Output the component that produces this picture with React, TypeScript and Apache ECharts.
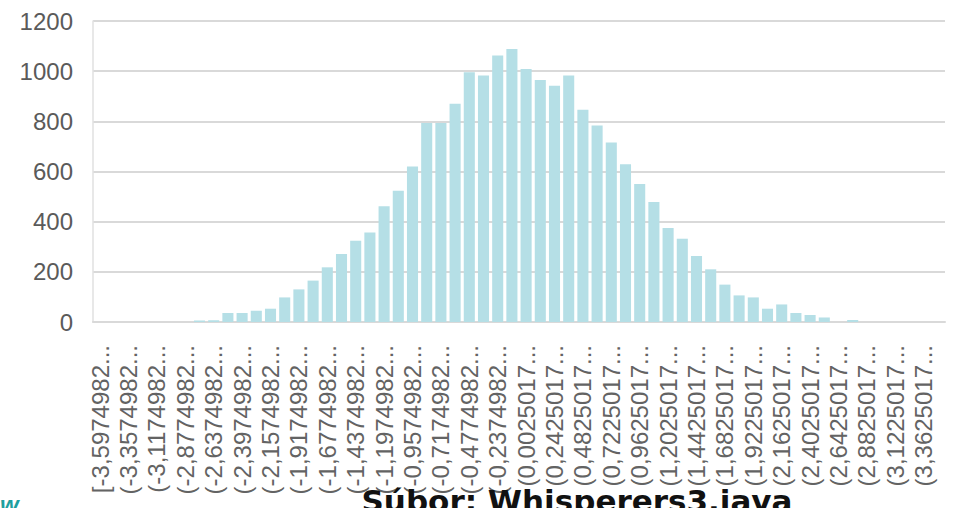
import React, { useEffect, useRef } from "react";
import * as echarts from "echarts";

const binStarts: string[] = [
  "[-3,5974982", "(-3,4774982", "(-3,3574982", "(-3,2374982", "(-3,1174982",
  "(-2,9974982", "(-2,8774982", "(-2,7574982", "(-2,6374982", "(-2,5174982",
  "(-2,3974982", "(-2,2774982", "(-2,1574982", "(-2,0374982", "(-1,9174982",
  "(-1,7974982", "(-1,6774982", "(-1,5574982", "(-1,4374982", "(-1,3174982",
  "(-1,1974982", "(-1,0774982", "(-0,9574982", "(-0,8374982", "(-0,7174982",
  "(-0,5974982", "(-0,4774982", "(-0,3574982", "(-0,2374982", "(-0,1174982",
  "(0,0025017", "(0,1225017", "(0,2425017", "(0,3625017", "(0,4825017",
  "(0,6025017", "(0,7225017", "(0,8425017", "(0,9625017", "(1,0825017",
  "(1,2025017", "(1,3225017", "(1,4425017", "(1,5625017", "(1,6825017",
  "(1,8025017", "(1,9225017", "(2,0425017", "(2,1625017", "(2,2825017",
  "(2,4025017", "(2,5225017", "(2,6425017", "(2,7625017", "(2,8825017",
  "(3,0025017", "(3,1225017", "(3,2425017", "(3,3625017", "(3,4825017",
];

const counts: number[] = [
  0, 0, 0, 0, 0, 0, 0, 6, 7, 36,
  36, 45, 53, 98, 130, 165, 218, 271, 324, 357,
  461, 523, 620, 793, 793, 870, 996, 983, 1062, 1088,
  1009, 965, 942, 983, 846, 783, 716, 629, 550, 478,
  375, 332, 263, 210, 149, 106, 98, 53, 70, 36,
  28, 18, 0, 8, 0, 0, 0, 0, 0, 0,
];

const yTicks = { min: 0, max: 1200, interval: 200 };
const titleText = "Súbor: Whisperers3.java";
const cornerText = "w";

export default function App() {
  const ref = useRef<HTMLDivElement>(null);
  useEffect(() => {
    if (!ref.current) return;
    const chart = echarts.init(ref.current, null, { renderer: "svg" });
    chart.setOption({
      animation: false,
      backgroundColor: "#ffffff",
      grid: { left: 93, right: 10, top: 21, bottom: 186, containLabel: false },
      xAxis: {
        type: "category",
        data: binStarts,
        axisLine: { show: true, lineStyle: { color: "#d9d9d9", width: 2 } },
        axisTick: { show: false },
        axisLabel: {
          interval: 1,
          rotate: 90,
          margin: 23,
          color: "#636363",
          fontFamily: "Liberation Sans, Arial, sans-serif",
          fontSize: 24,
          formatter: (v: string) => v + "...",
        },
      },
      yAxis: {
        type: "value",
        min: yTicks.min,
        max: yTicks.max,
        interval: yTicks.interval,
        axisLine: { show: true, lineStyle: { color: "#e0e0e0", width: 1.5 } },
        axisTick: { show: false },
        splitLine: { lineStyle: { color: "#d9d9d9", width: 2 } },
        axisLabel: {
          margin: 20,
          color: "#5a5a5a",
          fontFamily: "Liberation Sans, Arial, sans-serif",
          fontSize: 24,
          formatter: (v: number) => String(v),
        },
      },
      series: [
        {
          type: "bar",
          data: counts,
          barCategoryGap: "22%",
          itemStyle: { color: "#b5dfe6" },
        },
      ],
      graphic: [
        {
          type: "text",
          left: 0,
          top: 492,
          z: 100,
          style: {
            text: cornerText,
            fill: "#1f9f9f",
            font: "italic bold 24px 'Liberation Sans', Arial, sans-serif",
          },
        },
        {
          type: "text",
          x: 577,
          y: 485,
          z: 100,
          style: {
            text: titleText,
            fill: "#111111",
            align: "center",
            verticalAlign: "top",
            font: "bold 31px 'DejaVu Sans', Verdana, sans-serif",
          },
        },
      ],
    });
    return () => chart.dispose();
  }, []);
  return (
    <div
      ref={ref}
      style={{ position: "fixed", left: 0, top: 0, width: 955, height: 508 }}
    />
  );
}
